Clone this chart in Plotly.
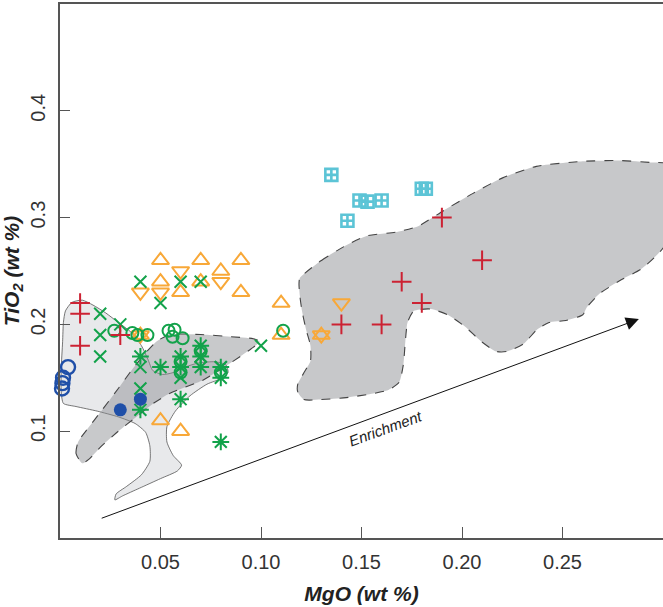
import plotly.graph_objects as go

# ---------------- data ----------------
red_plus_x = [0.01, 0.01, 0.01, 0.03, 0.14, 0.16, 0.17, 0.18, 0.19, 0.21]
red_plus_y = [0.22, 0.21, 0.18, 0.19, 0.20, 0.20, 0.24, 0.22, 0.30, 0.26]

cyan_sq_x = [0.135, 0.143, 0.149, 0.153, 0.160, 0.180, 0.182]
cyan_sq_y = [0.340, 0.297, 0.316, 0.315, 0.316, 0.327, 0.327]

blue_open_x = [0.004, 0.0015, 0.0012, 0.001]
blue_open_y = [0.160, 0.150, 0.145, 0.140]

blue_fill_x = [0.03, 0.04]
blue_fill_y = [0.12, 0.13]

green_x_x = [0.02, 0.02, 0.02, 0.03, 0.04, 0.05, 0.06, 0.07, 0.10, 0.04, 0.04, 0.06, 0.06, 0.07, 0.08]
green_x_y = [0.21, 0.19, 0.17, 0.20, 0.24, 0.22, 0.24, 0.24, 0.18, 0.16, 0.14, 0.15, 0.16, 0.17, 0.16]

green_ast_x = [0.04, 0.04, 0.05, 0.06, 0.06, 0.06, 0.07, 0.07, 0.07, 0.08, 0.08, 0.08]
green_ast_y = [0.17, 0.12, 0.16, 0.17, 0.16, 0.13, 0.18, 0.17, 0.16, 0.16, 0.15, 0.09]

green_circ_x = [0.027, 0.036, 0.0385, 0.0435, 0.054, 0.057, 0.056, 0.061, 0.111, 0.06, 0.07, 0.08, 0.06]
green_circ_y = [0.194, 0.192, 0.190, 0.190, 0.194, 0.195, 0.1885, 0.187, 0.194, 0.165, 0.175, 0.155, 0.155]

orange_up_x = [0.05, 0.07, 0.09, 0.05, 0.06, 0.07, 0.08, 0.09, 0.11, 0.11, 0.13, 0.04, 0.05, 0.06]
orange_up_y = [0.26, 0.26, 0.26, 0.24, 0.23, 0.24, 0.25, 0.23, 0.22, 0.19, 0.19, 0.19, 0.11, 0.10]

orange_dn_x = [0.04, 0.05, 0.06, 0.08, 0.14, 0.13, 0.04]
orange_dn_y = [0.23, 0.23, 0.25, 0.24, 0.22, 0.19, 0.19]

# field outlines (MgO, TiO2)
light_field_x = [0.0027, 0.0059, 0.0111, 0.0164, 0.0227, 0.029, 0.0353, 0.0405, 0.0437, 0.0462,
                 0.0511, 0.0563, 0.0626, 0.0689, 0.0773, 0.0826, 0.0836, 0.0805, 0.0731, 0.0647,
                 0.0574, 0.0532, 0.0532, 0.0563, 0.0605, 0.0584, 0.05, 0.0395, 0.0311, 0.0273,
                 0.0279, 0.0332, 0.0405, 0.0447, 0.0447, 0.0426, 0.0374, 0.029, 0.0185, 0.008,
                 0.0017, 0.0006, 0.0006, 0.0013, 0.0017]
light_field_y = [0.2126, 0.2206, 0.2227, 0.2181, 0.2108, 0.2018, 0.1928, 0.1801, 0.1675, 0.1567,
                 0.1531, 0.1549, 0.1603, 0.1639, 0.165, 0.1621, 0.1549, 0.1495, 0.144, 0.1332,
                 0.1188, 0.1043, 0.0899, 0.0773, 0.0682, 0.0628, 0.0556, 0.0466, 0.0394, 0.0357,
                 0.0412, 0.0484, 0.0592, 0.0718, 0.0863, 0.0989, 0.1072, 0.1134, 0.1188, 0.1231,
                 0.126, 0.1368, 0.1585, 0.1838, 0.2018]

band_field_x = [0.0111, 0.008, 0.009, 0.0132, 0.0206, 0.029, 0.036, 0.042, 0.048, 0.0547, 0.07,
                0.085, 0.0962, 0.0994, 0.095, 0.0846, 0.0713, 0.0547, 0.0464, 0.0381, 0.029,
                0.0206, 0.0143]
band_field_y = [0.070, 0.079, 0.090, 0.101, 0.119, 0.140, 0.158, 0.172, 0.184, 0.1905, 0.1905,
                0.1885, 0.1866, 0.1838, 0.177, 0.1636, 0.148, 0.1355, 0.126, 0.1136, 0.100,
                0.086, 0.0736]

big_field_x = [0.1193, 0.1298, 0.1424, 0.1529, 0.1676, 0.1782, 0.1908, 0.2055, 0.2202, 0.237,
               0.2601, 0.279, 0.2937, 0.302, 0.302, 0.2979, 0.2895, 0.279, 0.2685, 0.2622,
               0.2601, 0.2517, 0.2433, 0.237, 0.2307, 0.2223, 0.217, 0.2097, 0.2013, 0.1929,
               0.1845, 0.176, 0.1729, 0.1718, 0.1708, 0.1687, 0.1634, 0.155, 0.1424, 0.1298,
               0.1214, 0.1183, 0.1183, 0.1214, 0.1246, 0.1246, 0.1225, 0.1204, 0.1193, 0.1189]
big_field_y = [0.2433, 0.2596, 0.274, 0.283, 0.2866, 0.292, 0.3065, 0.3227, 0.3372, 0.348,
               0.3527, 0.3534, 0.3516, 0.35, 0.2776, 0.2668, 0.2523, 0.2415, 0.2289, 0.2162,
               0.209, 0.2036, 0.2018, 0.1946, 0.1819, 0.1747, 0.1747, 0.1838, 0.1982, 0.209,
               0.2144, 0.2126, 0.2018, 0.1838, 0.1621, 0.1458, 0.1386, 0.135, 0.1314, 0.1296,
               0.1296, 0.1368, 0.144, 0.1549, 0.1657, 0.1801, 0.1946, 0.2126, 0.2271, 0.2379]

arrow_start = (0.020, 0.018)
arrow_end = (0.288, 0.205)
arrow_label = "Enrichment"
arrow_label_pos = (0.1617, 0.103)

x_ticks = [0.05, 0.10, 0.15, 0.20, 0.25]
x_ticklabels = ["0.05", "0.10", "0.15", "0.20", "0.25"]
y_ticks = [0.1, 0.2, 0.3, 0.4]
y_ticklabels = ["0.1", "0.2", "0.3", "0.4"]

# ---------------- styles ----------------
RED = "#cc2233"
CYAN = "#5cc4d6"
BLUE = "#1f4fa8"
GREEN = "#12a24a"
ORANGE = "#f8a838"
FONT = "Liberation Sans, Arial, Helvetica, sans-serif"

fig = go.Figure()

# fields
fig.add_trace(go.Scatter(x=light_field_x + light_field_x[:1], y=light_field_y + light_field_y[:1],
                         mode="lines", fill="toself", fillcolor="#e8e9eb",
                         line=dict(color="#555555", width=0.8, shape="spline", smoothing=0.6),
                         hoverinfo="skip", showlegend=False))
fig.add_trace(go.Scatter(x=band_field_x + band_field_x[:1], y=band_field_y + band_field_y[:1],
                         mode="lines", fill="toself", fillcolor="rgba(140,142,146,0.48)",
                         line=dict(color="#444444", width=1.1, dash="dash", shape="spline", smoothing=0.6),
                         hoverinfo="skip", showlegend=False))
fig.add_trace(go.Scatter(x=big_field_x + big_field_x[:1], y=big_field_y + big_field_y[:1],
                         mode="lines", fill="toself", fillcolor="#c7c8ca",
                         line=dict(color="#444444", width=1.1, dash="dash", shape="spline", smoothing=0.6),
                         hoverinfo="skip", showlegend=False))


def pts(x, y, symbol, color, size, lw):
    m = dict(symbol=symbol, size=size, color=color, line=dict(color=color, width=lw))
    fig.add_trace(go.Scatter(x=x, y=y, mode="markers", marker=m, showlegend=False,
                             cliponaxis=False))


pts(orange_up_x, orange_up_y, "triangle-up-open", ORANGE, 15, 2)
pts(orange_dn_x, orange_dn_y, "triangle-down-open", ORANGE, 15, 2)
pts(green_circ_x, green_circ_y, "circle-open", GREEN, 12, 2)
pts(green_x_x, green_x_y, "x-thin", GREEN, 12, 2)
pts(green_ast_x, green_ast_y, "asterisk", GREEN, 14, 2)
pts(red_plus_x, red_plus_y, "cross-thin", RED, 14, 2)
pts(cyan_sq_x, cyan_sq_y, "square-cross-open", CYAN, 12, 2.6)
pts(blue_open_x, blue_open_y, "circle-open", BLUE, 14, 2.4)
pts(blue_fill_x, blue_fill_y, "circle", BLUE, 13, 0)

# enrichment arrow
fig.add_annotation(x=arrow_end[0], y=arrow_end[1], ax=arrow_start[0], ay=arrow_start[1],
                   xref="x", yref="y", axref="x", ayref="y", text="", showarrow=True,
                   arrowhead=2, arrowsize=2.6, arrowwidth=1, arrowcolor="#111111")
fig.add_annotation(x=arrow_label_pos[0], y=arrow_label_pos[1], xref="x", yref="y",
                   text=arrow_label, showarrow=False, textangle=-20,
                   font=dict(family=FONT, size=15, color="#222222", style="italic"))

axis_font = dict(family=FONT, size=20, color="#333333")
title_font = dict(family=FONT, size=21, color="#222222", weight="bold", style="italic")

fig.update_xaxes(range=[0, 0.3], tickvals=x_ticks, ticktext=x_ticklabels,
                 ticks="inside", ticklen=11, tickwidth=1.2, tickcolor="#555555",
                 showline=True, linecolor="#555555", linewidth=1.5, mirror=True,
                 showgrid=False, zeroline=False, tickfont=axis_font, ticklabelstandoff=5,
                 title=dict(text="MgO (wt %)", font=title_font, standoff=15))
fig.update_yaxes(range=[0, 0.5], tickvals=y_ticks, ticktext=y_ticklabels,
                 ticks="inside", ticklen=10, tickwidth=1.2, tickcolor="#555555",
                 showline=True, linecolor="#555555", linewidth=1.5, mirror=False,
                 showgrid=False, zeroline=False, tickfont=axis_font, tickangle=-90,
                 ticklabelstandoff=5,
                 title=dict(text="TiO<sub>2</sub> (wt %)", font=title_font, standoff=5))

fig.update_layout(width=663, height=607, margin=dict(l=60, r=0, t=4, b=69),
                  paper_bgcolor="white", plot_bgcolor="white")

fig.write_html("out.html")
